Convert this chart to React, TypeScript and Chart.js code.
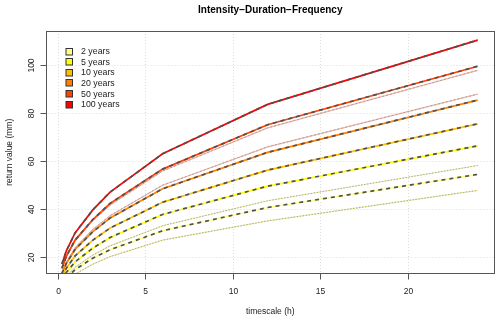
import React, { useEffect, useRef } from "react";
import { Chart, registerables } from "chart.js";
Chart.register(...registerables);

const durations = [0.25, 0.5, 1, 2, 3, 6, 12, 24];
const rp2 = [8.3, 11, 14.7, 19.4, 23, 30.9, 40.6, 54.4];
const rp5 = [10.2, 13.5, 17.9, 23.6, 28.1, 37.7, 49.5, 66.3];
const rp10 = [11.6, 15.3, 20.4, 26.9, 32, 42.8, 56.2, 75.5];
const rp20 = [13.1, 17.3, 23.1, 30.4, 36.2, 48.4, 63.6, 85.4];
const rp50 = [15.3, 20.3, 27, 35.5, 42.3, 56.6, 75.1, 99.5];
const rp100 = [17, 22.5, 30, 39.5, 47, 63, 83.6, 110.4];
const thinUpperA = [15, 19.9, 26.6, 35, 41.6, 55.8, 73.8, 97.8];
const thinUpperB = [13.5, 17.8, 23.8, 31.3, 37.2, 49.9, 65.9, 87.9];
const thinLowerA = [8.9, 11.8, 15.7, 20.7, 24.6, 33, 43.4, 58.1];
const thinLowerB = [7.3, 9.6, 12.8, 16.9, 20.1, 27, 35, 47.7];

const legendLabels = ["2 years", "5 years", "10 years", "20 years", "50 years", "100 years"];
const legendColors = ["#FFFF80", "#FFFF00", "#FFBF00", "#FF8000", "#FF4000", "#FF0000"];
const mainSeries = [rp2, rp5, rp10, rp20, rp50, rp100];
const xTicks = [0, 5, 10, 15, 20];
const yTicks = [20, 40, 60, 80, 100];
const titleText = "Intensity\u2212Duration\u2212Frequency";
const xTitle = "timescale (h)";
const yTitle = "return value (mm)";

const FONT = "'Liberation Sans', Arial, Helvetica, sans-serif";

const pts = (vals: number[]) => vals.map((v, i) => ({ x: durations[i], y: v }));

export default function App() {
  const ref = useRef<HTMLCanvasElement | null>(null);
  useEffect(() => {
    if (!ref.current) return;
    const datasets: any[] = [];
    const thin = [
      { d: thinUpperA, c: "#F6B3A6", dash: [2, 2] },
      { d: thinUpperB, c: "#F6B3A6", dash: [2, 2] },
      { d: thinLowerA, c: "#F0F0A0", dash: [1.5, 1.5] },
      { d: thinLowerB, c: "#F0F0A0", dash: [1.5, 1.5] },
    ];
    thin.forEach((t) => {
      datasets.push({ data: pts(t.d), borderColor: t.c, borderWidth: 1.2, pointRadius: 0, order: 3 });
      datasets.push({ data: pts(t.d), borderColor: "#a0a0a0", borderWidth: 0.9, borderDash: t.dash, pointRadius: 0, order: 2 });
    });
    mainSeries.forEach((s, i) => {
      datasets.push({ data: pts(s), borderColor: legendColors[i], borderWidth: 1.7, pointRadius: 0, order: 1 });
      datasets.push({ data: pts(s), borderColor: "#505050", borderWidth: 1.7, borderDash: [4, 4], pointRadius: 0, order: 0 });
    });

    const decor = {
      id: "rdecor",
      beforeDatasetsDraw(chart: any) {
        const { ctx, chartArea: a, scales } = chart;
        ctx.save();
        ctx.strokeStyle = "#dcdcdc";
        ctx.lineWidth = 1;
        ctx.setLineDash([1, 2]);
        xTicks.forEach((t) => {
          const x = Math.round(scales.x.getPixelForValue(t)) + 0.5;
          ctx.beginPath(); ctx.moveTo(x, a.top); ctx.lineTo(x, a.bottom); ctx.stroke();
        });
        yTicks.forEach((t) => {
          const y = Math.round(scales.y.getPixelForValue(t)) + 0.5;
          ctx.beginPath(); ctx.moveTo(a.left, y); ctx.lineTo(a.right, y); ctx.stroke();
        });
        ctx.restore();
      },
      afterDatasetsDraw(chart: any) {
        const { ctx, chartArea: a, scales } = chart;
        ctx.save();
        ctx.setLineDash([]);
        ctx.strokeStyle = "#555";
        ctx.lineWidth = 1;
        const L = Math.round(a.left) + 0.5, R = Math.round(a.right) - 0.5;
        const T = Math.round(a.top) + 0.5, B = Math.round(a.bottom) - 0.5;
        ctx.strokeRect(L, T, R - L, B - T);
        ctx.fillStyle = "#222";
        ctx.font = `8.5px ${FONT}`;
        ctx.textAlign = "center";
        ctx.textBaseline = "middle";
        const x0 = Math.round(scales.x.getPixelForValue(xTicks[0])) + 0.5;
        const x1 = Math.round(scales.x.getPixelForValue(xTicks[xTicks.length - 1])) + 0.5;
        ctx.beginPath(); ctx.moveTo(x0, B); ctx.lineTo(x1, B); ctx.stroke();
        xTicks.forEach((t) => {
          const x = Math.round(scales.x.getPixelForValue(t)) + 0.5;
          ctx.beginPath(); ctx.moveTo(x, B); ctx.lineTo(x, B + 6); ctx.stroke();
          ctx.fillText(String(t), x, B + 18);
        });
        yTicks.forEach((t) => {
          const y = Math.round(scales.y.getPixelForValue(t)) + 0.5;
          ctx.beginPath(); ctx.moveTo(L - 6, y); ctx.lineTo(L, y); ctx.stroke();
          ctx.save();
          ctx.translate(L - 15, y);
          ctx.rotate(-Math.PI / 2);
          ctx.fillText(String(t), 0, 0);
          ctx.restore();
        });
        const cx = (a.left + a.right) / 2, cy = (a.top + a.bottom) / 2;
        ctx.fillText(xTitle, cx, B + 38.5);
        ctx.save();
        ctx.translate(10, cy);
        ctx.rotate(-Math.PI / 2);
        ctx.fillText(yTitle, 0, 0);
        ctx.restore();
        ctx.fillStyle = "#000";
        ctx.font = `bold 10px ${FONT}`;
        ctx.fillText(titleText, cx, 10.5);
        ctx.font = `8.8px ${FONT}`;
        ctx.textAlign = "left";
        legendLabels.forEach((lab, i) => {
          const yc = a.top + 20 + i * 10.66;
          ctx.fillStyle = legendColors[i];
          ctx.fillRect(L + 19.5, Math.round(yc - 3.5) + 0.5, 6.5, 6.5);
          ctx.strokeStyle = "#333";
          ctx.strokeRect(L + 19.5, Math.round(yc - 3.5) + 0.5, 6.5, 6.5);
          ctx.fillStyle = "#222";
          ctx.fillText(lab, L + 34.5, yc + 0.5);
        });
        ctx.restore();
      },
    };

    const chart = new Chart(ref.current, {
      type: "line",
      data: { datasets },
      options: {
        animation: false,
        responsive: false,
        maintainAspectRatio: false,
        layout: { padding: { left: 45.5, right: 5, top: 31, bottom: 47.5 } },
        plugins: { legend: { display: false }, tooltip: { enabled: false } },
        elements: { line: { tension: 0 } },
        scales: {
          x: { type: "linear", min: -0.69, max: 24.99, display: false },
          y: { type: "linear", min: 13.07, max: 114.2, display: false },
        },
      },
      plugins: [decor],
    });
    return () => chart.destroy();
  }, []);
  return (
    <div style={{ position: "fixed", left: 0, top: 0, width: 500, height: 321, background: "#fff" }}>
      <canvas ref={ref} width={500} height={321} style={{ width: 500, height: 321 }} />
    </div>
  );
}
